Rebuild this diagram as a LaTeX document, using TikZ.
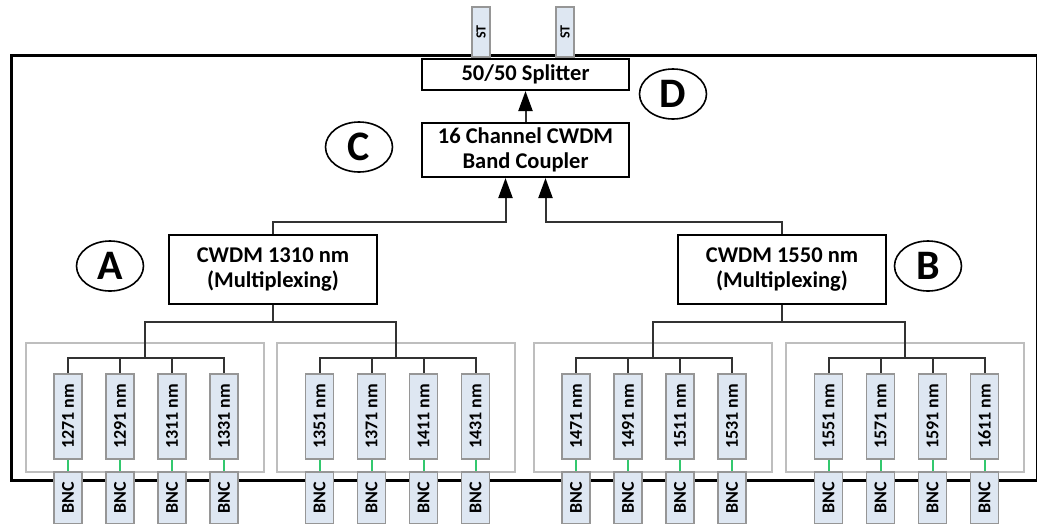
\documentclass[tikz,border=0pt]{standalone}
\usepackage{fontspec}
\setmainfont{Carlito}
\usetikzlibrary{arrows.meta,shapes.geometric}
\definecolor{linegray}{RGB}{50,50,50}
\definecolor{chanfill}{RGB}{222,231,242}
\definecolor{chanborder}{RGB}{150,150,150}
\definecolor{groupgray}{RGB}{190,190,190}
\definecolor{greenc}{RGB}{50,200,110}
\begin{document}
\begin{tikzpicture}[x=1pt,y=-1pt,
  conn/.style={draw=linegray,line width=2pt},
  arr/.style={conn,-{Triangle[length=20pt,width=14pt,color=black]}},
  gconn/.style={draw=greenc,line width=2pt},
  mainbox/.style={draw=black,line width=2pt,fill=white,inner sep=0pt,align=center,
    font=\bfseries\fontsize{22.5}{25}\selectfont},
  chan/.style={draw=chanborder,fill=chanfill,line width=1.2pt,inner sep=0pt,
    minimum width=28pt,minimum height=85pt,font=\bfseries\fontsize{18}{20}\selectfont},
  bnc/.style={chan,minimum height=52pt},
  sttab/.style={draw=chanborder,fill=chanfill,line width=1.2pt,inner sep=0pt,
    minimum width=18pt,minimum height=50pt,font=\bfseries\fontsize{14}{15}\selectfont},
  grp/.style={draw=groupgray,line width=1.3pt,inner sep=0pt,minimum width=238pt,minimum height=129pt},
  lbl/.style={ellipse,draw=black,line width=1.6pt,inner sep=0pt,minimum width=67pt,minimum height=50pt,
    font=\bfseries\fontsize{42}{44}\selectfont}
]
\useasboundingbox (0,0) rectangle (1037,523);
% outer frame
\draw[line width=3pt] (11,55) rectangle (1037.5,480);
% groups
\foreach \g/\gl in {1/26,2/277,3/534,4/786}{
  \node[grp] (g\g) at (\gl+119,407.5) {};
  \coordinate (h\g) at (\gl+119,358);
}
% main boxes
\node[mainbox,minimum width=207pt,minimum height=31pt] (spl) at (525.5,74.5) {50/50 Splitter};
\node[mainbox,minimum width=207pt,minimum height=54pt] (cpl) at (525.5,150) {16 Channel CWDM\\Band Coupler};
\node[mainbox,minimum width=208pt,minimum height=69pt] (m1310) at (273,269.5) {CWDM 1310 nm\\(Multiplexing)};
\node[mainbox,minimum width=208pt,minimum height=69pt] (m1550) at (782,269.5) {CWDM 1550 nm\\(Multiplexing)};
% ST connectors
\node[sttab] (st1) at (481,32) {\rotatebox{90}{ST}};
\node[sttab] (st2) at (565,32) {\rotatebox{90}{ST}};
% labels
\node[lbl] (A) at (110,266) {A};
\node[lbl] (B) at (928,266) {B};
\node[lbl] (C) at (359,147) {C};
\node[lbl] (D) at (673,94) {D};
% channels and BNCs
\foreach \n/\x/\w/\g in {1/68/1271/1,2/120/1291/1,3/172/1311/1,4/224/1331/1,
  5/319.5/1351/2,6/371.5/1371/2,7/423.5/1411/2,8/475.5/1431/2,
  9/576/1471/3,10/628/1491/3,11/680/1511/3,12/732/1531/3,
  13/828.5/1551/4,14/880.5/1571/4,15/932.5/1591/4,16/984.5/1611/4}{
  \node[chan] (c\n) at (\x,416.5) {\rotatebox{90}{\w\ nm}};
  \node[bnc] (b\n) at (\x,498) {\rotatebox{90}{BNC}};
  \draw[gconn] (c\n.south) -- (b\n.north);
  \draw[conn] (h\g) -| (c\n.north);
}
% tree connectors
\draw[conn] (m1310.south) -- ++(0,17) -| (h1);
\draw[conn] (m1310.south) -- ++(0,17) -| (h2);
\draw[conn] (m1550.south) -- ++(0,17) -| (h3);
\draw[conn] (m1550.south) -- ++(0,17) -| (h4);
\draw[arr] (m1310.north) -- ++(0,-12) -| ([xshift=-20pt]cpl.south);
\draw[arr] (m1550.north) -- ++(0,-12) -| ([xshift=20pt]cpl.south);
\draw[arr] (cpl.north) -- (spl.south);
\end{tikzpicture}
\end{document}
